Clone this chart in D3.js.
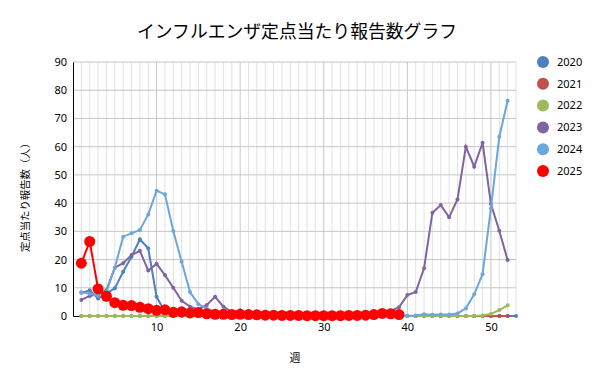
<!DOCTYPE html>
<html>
<head>
<meta charset="utf-8">
<script src="https://cdn.jsdelivr.net/npm/d3@7"></script>
<style>
  body { margin: 0; background: #fff; }
  text { font-family: "Noto Sans", "Noto Sans CJK JP", sans-serif; }
</style>
</head>
<body>
<div id="chart"></div>
<script>
// weekly reports per sentinel site, one array per season year
const years = ['2020', '2021', '2022', '2023', '2024', '2025'];
const colors = ['#4F81BD', '#C0504D', '#9BBB59', '#8064A2', '#6CA6DC', '#FF0000'];

const v2020 = [8.2, 9.1, 6.2, 8.0, 9.8, 15.7, 21.0, 27.2, 24.0, 6.8, 1.5, 0.3, 0.1, 0.1, 0, 0, 0, 0, 0, 0,
  0, 0, 0, 0, 0, 0, 0, 0, 0, 0, 0, 0, 0, 0, 0, 0, 0, 0, 0, 0,
  0, 0, 0, 0, 0, 0, 0, 0, 0, 0, 0, 0, 0];
const v2021 = [0, 0, 0, 0, 0, 0, 0, 0, 0, 0, 0, 0, 0, 0, 0, 0, 0, 0, 0, 0,
  0, 0, 0, 0, 0, 0, 0, 0, 0, 0, 0, 0, 0, 0, 0, 0, 0, 0, 0, 0,
  0, 0, 0, 0, 0, 0, 0, 0, 0, 0, 0, 0];
const v2022 = [0, 0, 0, 0, 0, 0, 0, 0, 0, 0, 0, 0, 0, 0, 0, 0, 0, 0, 0, 0,
  0, 0, 0, 0, 0, 0, 0, 0, 0, 0, 0, 0, 0, 0, 0, 0, 0, 0, 0, 0,
  0, 0, 0, 0, 0, 0, 0, 0, 0.2, 0.7, 2.1, 3.8];
const v2023 = [5.7, 7.1, 7.8, 9.2, 17.1, 18.7, 21.6, 23.1, 16.1, 18.5, 14.5, 10.0, 5.4, 3.3, 2.4, 3.9, 6.8, 3.3, 1.4, 2.0,
  0.9, 0.5, 0.3, 0.2, 0.2, 0.1, 0.1, 0.1, 0.1, 0.1, 0.1, 0.1, 0.2, 0.3, 0.5, 0.8, 1.2, 1.8, 3.1, 7.4,
  8.5, 16.9, 36.6, 39.3, 35.0, 41.3, 60.0, 52.9, 61.4, 39.7, 30.2, 19.8];
const v2024 = [8.4, 7.9, 7.2, 8.6, 17.1, 28.1, 29.3, 30.5, 36.0, 44.4, 43.1, 30.1, 19.2, 8.5, 4.2, 2.6, 1.6, 1.0, 0.8, 1.5,
  0.6, 0.3, 0.2, 0.2, 0.1, 0.1, 0.1, 0.1, 0.1, 0.1, 0.1, 0.1, 0.1, 0.1, 0.1, 0.1, 0.1, 0.1, 0.1, 0.1,
  0.2, 0.6, 0.4, 0.5, 0.5, 0.9, 2.7, 7.7, 14.8, 38.2, 63.5, 76.3];
const v2025 = [18.7, 26.4, 9.6, 7.0, 4.7, 3.8, 3.7, 3.1, 2.6, 2.0, 2.2, 1.3, 1.5, 1.1, 1.2, 0.8, 0.6, 0.6, 0.5, 0.6,
  0.5, 0.4, 0.3, 0.3, 0.2, 0.2, 0.2, 0.1, 0.1, 0.1, 0.1, 0.1, 0.2, 0.2, 0.3, 0.5, 0.9, 0.8, 0.5];

const yTicks = [0, 10, 20, 30, 40, 50, 60, 70, 80, 90];
const xTicks = [10, 20, 30, 40, 50];

const seriesValues = [v2020, v2021, v2022, v2023, v2024, v2025];
const series = years.map((y, i) => ({
  name: y,
  color: colors[i],
  points: seriesValues[i].map((v, j) => ({ week: j + 1, value: v }))
}));

const W = 600, H = 384;
const margin = { top: 62, right: 84, bottom: 68, left: 73 };
const width = W - margin.left - margin.right,
  height = H - margin.top - margin.bottom;

const svg = d3.select('#chart')
  .append('svg')
  .attr('width', W)
  .attr('height', H);

const g = svg.append('g')
  .attr('transform', 'translate(' + margin.left + ',' + margin.top + ')');

const x = d3.scaleLinear().domain([0, 53]).range([0, width]);
const y = d3.scaleLinear().domain([0, 90]).range([height, 0]);

// vertical grid, every week, darker every 10
g.append('g')
  .selectAll('line')
  .data(d3.range(1, 54))
  .enter()
  .append('line')
  .attr('x1', d => x(d)).attr('x2', d => x(d))
  .attr('y1', 0).attr('y2', height)
  .attr('stroke', d => d % 10 === 0 ? '#c6c6c6' : '#e2e2e2')
  .attr('stroke-width', 1);

// horizontal grid
g.append('g')
  .selectAll('line')
  .data(yTicks.slice(1))
  .enter()
  .append('line')
  .attr('x1', 0).attr('x2', width)
  .attr('y1', d => y(d)).attr('y2', d => y(d))
  .attr('stroke', '#c6c6c6')
  .attr('stroke-width', 1);

// axes
const yAxis = g.append('g')
  .call(d3.axisLeft(y).tickValues(yTicks).tickSize(0).tickPadding(6));
yAxis.select('.domain').attr('stroke', '#000');
yAxis.selectAll('text').style('font-size', '11px').attr('fill', '#000');

const xAxis = g.append('g')
  .attr('transform', 'translate(0,' + height + ')')
  .call(d3.axisBottom(x).tickValues(xTicks).tickSize(0).tickPadding(7));
xAxis.select('.domain').attr('stroke', '#000');
xAxis.selectAll('text').style('font-size', '11px').attr('fill', '#000');

// lines
const line = d3.line()
  .x(d => x(d.week))
  .y(d => y(d.value));

series.forEach(s => {
  const big = s.name === '2025';
  g.append('path')
    .datum(s.points)
    .attr('fill', 'none')
    .attr('stroke', s.color)
    .attr('stroke-width', 2)
    .attr('d', line);
  g.append('g')
    .selectAll('circle')
    .data(s.points)
    .enter()
    .append('circle')
    .attr('cx', d => x(d.week))
    .attr('cy', d => y(d.value))
    .attr('r', big ? 5.5 : 2)
    .attr('fill', s.color);
});

// legend
const legend = svg.append('g')
  .attr('transform', 'translate(543,62)');
series.forEach((s, i) => {
  const row = legend.append('g').attr('transform', 'translate(0,' + (i * 21.8) + ')');
  row.append('circle').attr('r', 6).attr('fill', s.color);
  row.append('text')
    .attr('x', 14)
    .attr('dy', '0.35em')
    .style('font-size', '11px')
    .attr('fill', '#000')
    .text(s.name);
});

// title
svg.append('text')
  .attr('x', 297)
  .attr('y', 38)
  .attr('text-anchor', 'middle')
  .style('font-size', '18px')
  .style('font-family', '"Noto Sans CJK JP", sans-serif')
  .attr('textLength', 320)
  .attr('lengthAdjust', 'spacingAndGlyphs')
  .attr('fill', '#000')
  .text('インフルエンザ定点当たり報告数グラフ');

// axis titles
svg.append('text')
  .attr('transform', 'translate(25,195) rotate(-90)')
  .attr('text-anchor', 'middle')
  .attr('dy', '0.35em')
  .style('font-size', '10.5px')
  .style('font-family', '"Noto Sans CJK JP", sans-serif')
  .attr('textLength', 114)
  .attr('lengthAdjust', 'spacingAndGlyphs')
  .attr('fill', '#000')
  .text('定点当たり報告数（人）');

svg.append('text')
  .attr('x', 295)
  .attr('y', 362)
  .attr('text-anchor', 'middle')
  .style('font-size', '11px')
  .style('font-family', '"Noto Sans CJK JP", sans-serif')
  .attr('fill', '#000')
  .text('週');
</script>
</body>
</html>
